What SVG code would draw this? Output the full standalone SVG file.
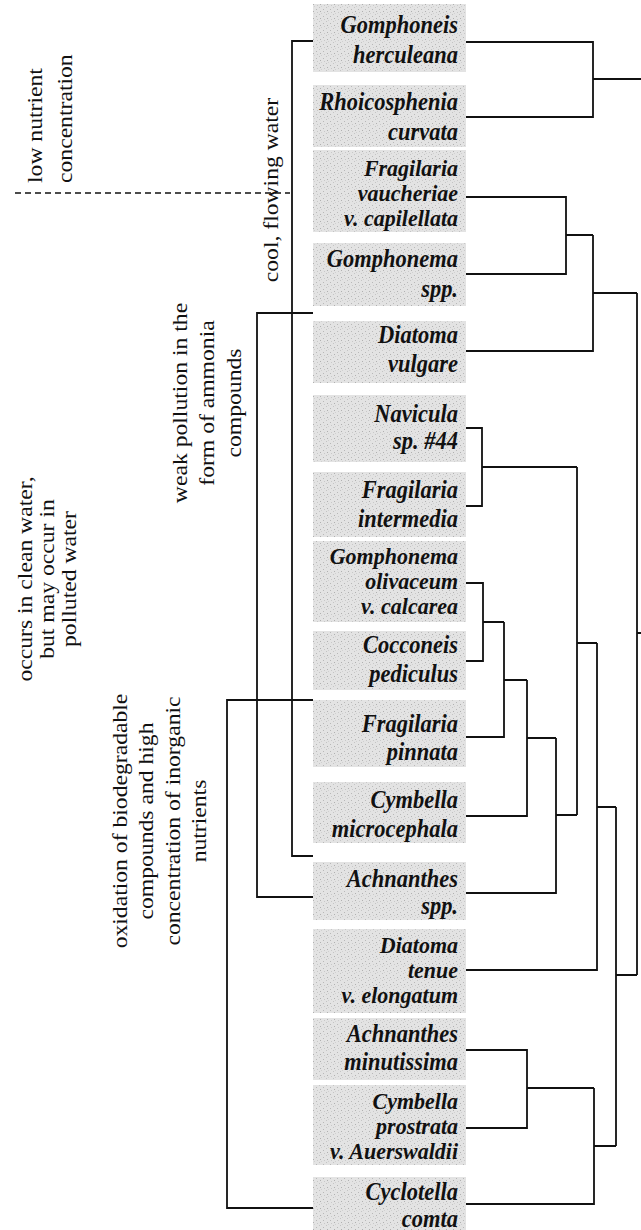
<svg xmlns="http://www.w3.org/2000/svg" width="641" height="1230" viewBox="0 0 641 1230">
<defs>
<pattern id="stipple" width="7" height="7" patternUnits="userSpaceOnUse">
<rect width="7" height="7" fill="#e3e3e3"/>
<rect x="1" y="2" width="1" height="1" fill="#b8b8b8"/>
<rect x="4" y="0" width="1" height="1" fill="#c4c4c4"/>
<rect x="5" y="4" width="1" height="1" fill="#b0b0b0"/>
<rect x="2" y="5" width="1" height="1" fill="#c8c8c8"/>
<rect x="6" y="6" width="1" height="1" fill="#d0d0d0"/>
</pattern>
</defs>
<style>
.box{fill:url(#stipple)}
.lbl{font-family:"Liberation Serif","Times New Roman",serif;font-weight:bold;font-style:italic;font-size:22.5px;text-anchor:end;fill:#111}
.l3{font-size:22px}
.note{font-family:"Liberation Serif","Times New Roman",serif;font-size:21.5px;fill:#111}
.mid{text-anchor:middle}
.ln{fill:none;stroke:#111;stroke-width:1.8}
.dash{fill:none;stroke:#111;stroke-width:1.6;stroke-dasharray:6 4}
</style>
<rect width="641" height="1230" fill="#fff"/>

<g id="notes">
<g id="note-low-nutrient">
<text class="note" transform="translate(0 183) rotate(-90) scale(1.1 1)"><tspan x="0" y="42">low nutrient</tspan><tspan x="0" y="72">concentration</tspan></text>
</g>
<g id="note-cool-water">
<text class="note mid" transform="translate(0 190) rotate(-90) scale(1.1 1)"><tspan x="0" y="278">cool, flowing water</tspan></text>
</g>
<g id="note-weak-pollution">
<text class="note mid" transform="translate(0 403) rotate(-90) scale(1.1 1)"><tspan x="0" y="187">weak pollution in the</tspan><tspan x="0" y="214">form of ammonia</tspan><tspan x="0" y="241">compounds</tspan></text>
</g>
<g id="note-clean-water">
<text class="note mid" transform="translate(0 579) rotate(-90) scale(1.1 1)"><tspan x="0" y="32">occurs in clean water,</tspan><tspan x="0" y="54">but may occur in</tspan><tspan x="0" y="76">polluted water</tspan></text>
</g>
<g id="note-oxidation">
<text class="note mid" transform="translate(0 821) rotate(-90) scale(1.1 1)"><tspan x="0" y="127">oxidation of biodegradable</tspan><tspan x="0" y="153">compounds and high</tspan><tspan x="0" y="180">concentration of inorganic</tspan><tspan x="0" y="206">nutrients</tspan></text>
</g>
</g>

<g id="connectors">
<path class="dash" d="M15 193 H290"/>
<path class="ln" d="M313 41 H292 V856 H313"/>
<path class="ln" d="M313 313 H257 V897 H313"/>
<path class="ln" d="M313 700 H227 V1208 H313"/>

<path class="ln" d="M466 42 H593 V117 H466 M593 79 H641"/>
<path class="ln" d="M466 197 H566 V274 H466 M566 235 H593"/>
<path class="ln" d="M593 235 V351 H466 M593 293 H637"/>
<path class="ln" d="M466 428 H482 V506 H466 M482 467 H577"/>
<path class="ln" d="M466 583 H483 V661 H466 M483 622 H504"/>
<path class="ln" d="M504 622 V737 H466 M504 680 H527"/>
<path class="ln" d="M527 680 V816 H466 M527 738 H556"/>
<path class="ln" d="M556 738 V893 H466 M556 815 H577"/>
<path class="ln" d="M577 467 V815 M577 643 H597"/>
<path class="ln" d="M597 643 V970 H466 M597 807 H616"/>
<path class="ln" d="M466 1050 H527 V1128 H466 M527 1088 H594"/>
<path class="ln" d="M594 1088 V1204 H466 M594 1146 H616"/>
<path class="ln" d="M616 807 V1146 M616 975 H637"/>
<path class="ln" d="M637 293 V975 M637 633 H641"/>
</g>

<g id="n1"><rect class="box" x="313" y="4" width="153" height="68"/>
<text class="lbl" transform="translate(458 33) scale(1 1.12)">Gomphoneis</text>
<text class="lbl" transform="translate(458 63) scale(1 1.12)">herculeana</text></g>
<g id="n2"><rect class="box" x="313" y="85" width="153" height="62"/>
<text class="lbl" transform="translate(458 110) scale(1 1.12)">Rhoicosphenia</text>
<text class="lbl" transform="translate(458 140) scale(1 1.12)">curvata</text></g>
<g id="n3"><rect class="box" x="313" y="150" width="153" height="82"/>
<text class="lbl l3" transform="translate(458 176) scale(1 1.05)">Fragilaria</text>
<text class="lbl l3" transform="translate(458 201) scale(1 1.05)">vaucheriae</text>
<text class="lbl l3" transform="translate(458 226) scale(1 1.05)">v. capilellata</text></g>
<g id="n4"><rect class="box" x="313" y="243" width="153" height="63"/>
<text class="lbl" transform="translate(458 267) scale(1 1.12)">Gomphonema</text>
<text class="lbl" transform="translate(458 297) scale(1 1.12)">spp.</text></g>
<g id="n5"><rect class="box" x="313" y="321" width="153" height="62"/>
<text class="lbl" transform="translate(458 343) scale(1 1.12)">Diatoma</text>
<text class="lbl" transform="translate(458 372) scale(1 1.12)">vulgare</text></g>
<g id="n6"><rect class="box" x="313" y="395" width="153" height="67"/>
<text class="lbl" transform="translate(458 422) scale(1 1.12)">Navicula</text>
<text class="lbl" transform="translate(458 449) scale(1 1.12)">sp. #44</text></g>
<g id="n7"><rect class="box" x="313" y="472" width="153" height="65"/>
<text class="lbl" transform="translate(458 498) scale(1 1.12)">Fragilaria</text>
<text class="lbl" transform="translate(458 527) scale(1 1.12)">intermedia</text></g>
<g id="n8"><rect class="box" x="313" y="541" width="153" height="81"/>
<text class="lbl l3" transform="translate(458 564) scale(1 1.05)">Gomphonema</text>
<text class="lbl l3" transform="translate(458 589) scale(1 1.05)">olivaceum</text>
<text class="lbl l3" transform="translate(458 614) scale(1 1.05)">v. calcarea</text></g>
<g id="n9"><rect class="box" x="313" y="631" width="153" height="59"/>
<text class="lbl" transform="translate(458 653) scale(1 1.12)">Cocconeis</text>
<text class="lbl" transform="translate(458 682) scale(1 1.12)">pediculus</text></g>
<g id="n10"><rect class="box" x="313" y="700" width="153" height="67"/>
<text class="lbl" transform="translate(458 732) scale(1 1.12)">Fragilaria</text>
<text class="lbl" transform="translate(458 760) scale(1 1.12)">pinnata</text></g>
<g id="n11"><rect class="box" x="313" y="782" width="153" height="61"/>
<text class="lbl" transform="translate(458 808) scale(1 1.12)">Cymbella</text>
<text class="lbl" transform="translate(458 837) scale(1 1.12)">microcephala</text></g>
<g id="n12"><rect class="box" x="313" y="862" width="153" height="58"/>
<text class="lbl" transform="translate(458 887) scale(1 1.12)">Achnanthes</text>
<text class="lbl" transform="translate(458 914) scale(1 1.12)">spp.</text></g>
<g id="n13"><rect class="box" x="313" y="929" width="153" height="84"/>
<text class="lbl l3" transform="translate(458 953) scale(1 1.05)">Diatoma</text>
<text class="lbl l3" transform="translate(458 978) scale(1 1.05)">tenue</text>
<text class="lbl l3" transform="translate(458 1003) scale(1 1.05)">v. elongatum</text></g>
<g id="n14"><rect class="box" x="313" y="1018" width="153" height="62"/>
<text class="lbl" transform="translate(458 1042) scale(1 1.12)">Achnanthes</text>
<text class="lbl" transform="translate(458 1070) scale(1 1.12)">minutissima</text></g>
<g id="n15"><rect class="box" x="313" y="1085" width="153" height="80"/>
<text class="lbl l3" transform="translate(458 1109) scale(1 1.05)">Cymbella</text>
<text class="lbl l3" transform="translate(458 1134) scale(1 1.05)">prostrata</text>
<text class="lbl l3" transform="translate(458 1159) scale(1 1.05)">v. Auerswaldii</text></g>
<g id="n16"><rect class="box" x="313" y="1177" width="153" height="53"/>
<text class="lbl" transform="translate(458 1200) scale(1 1.12)">Cyclotella</text>
<text class="lbl" transform="translate(458 1227) scale(1 1.12)">comta</text></g>
</svg>
